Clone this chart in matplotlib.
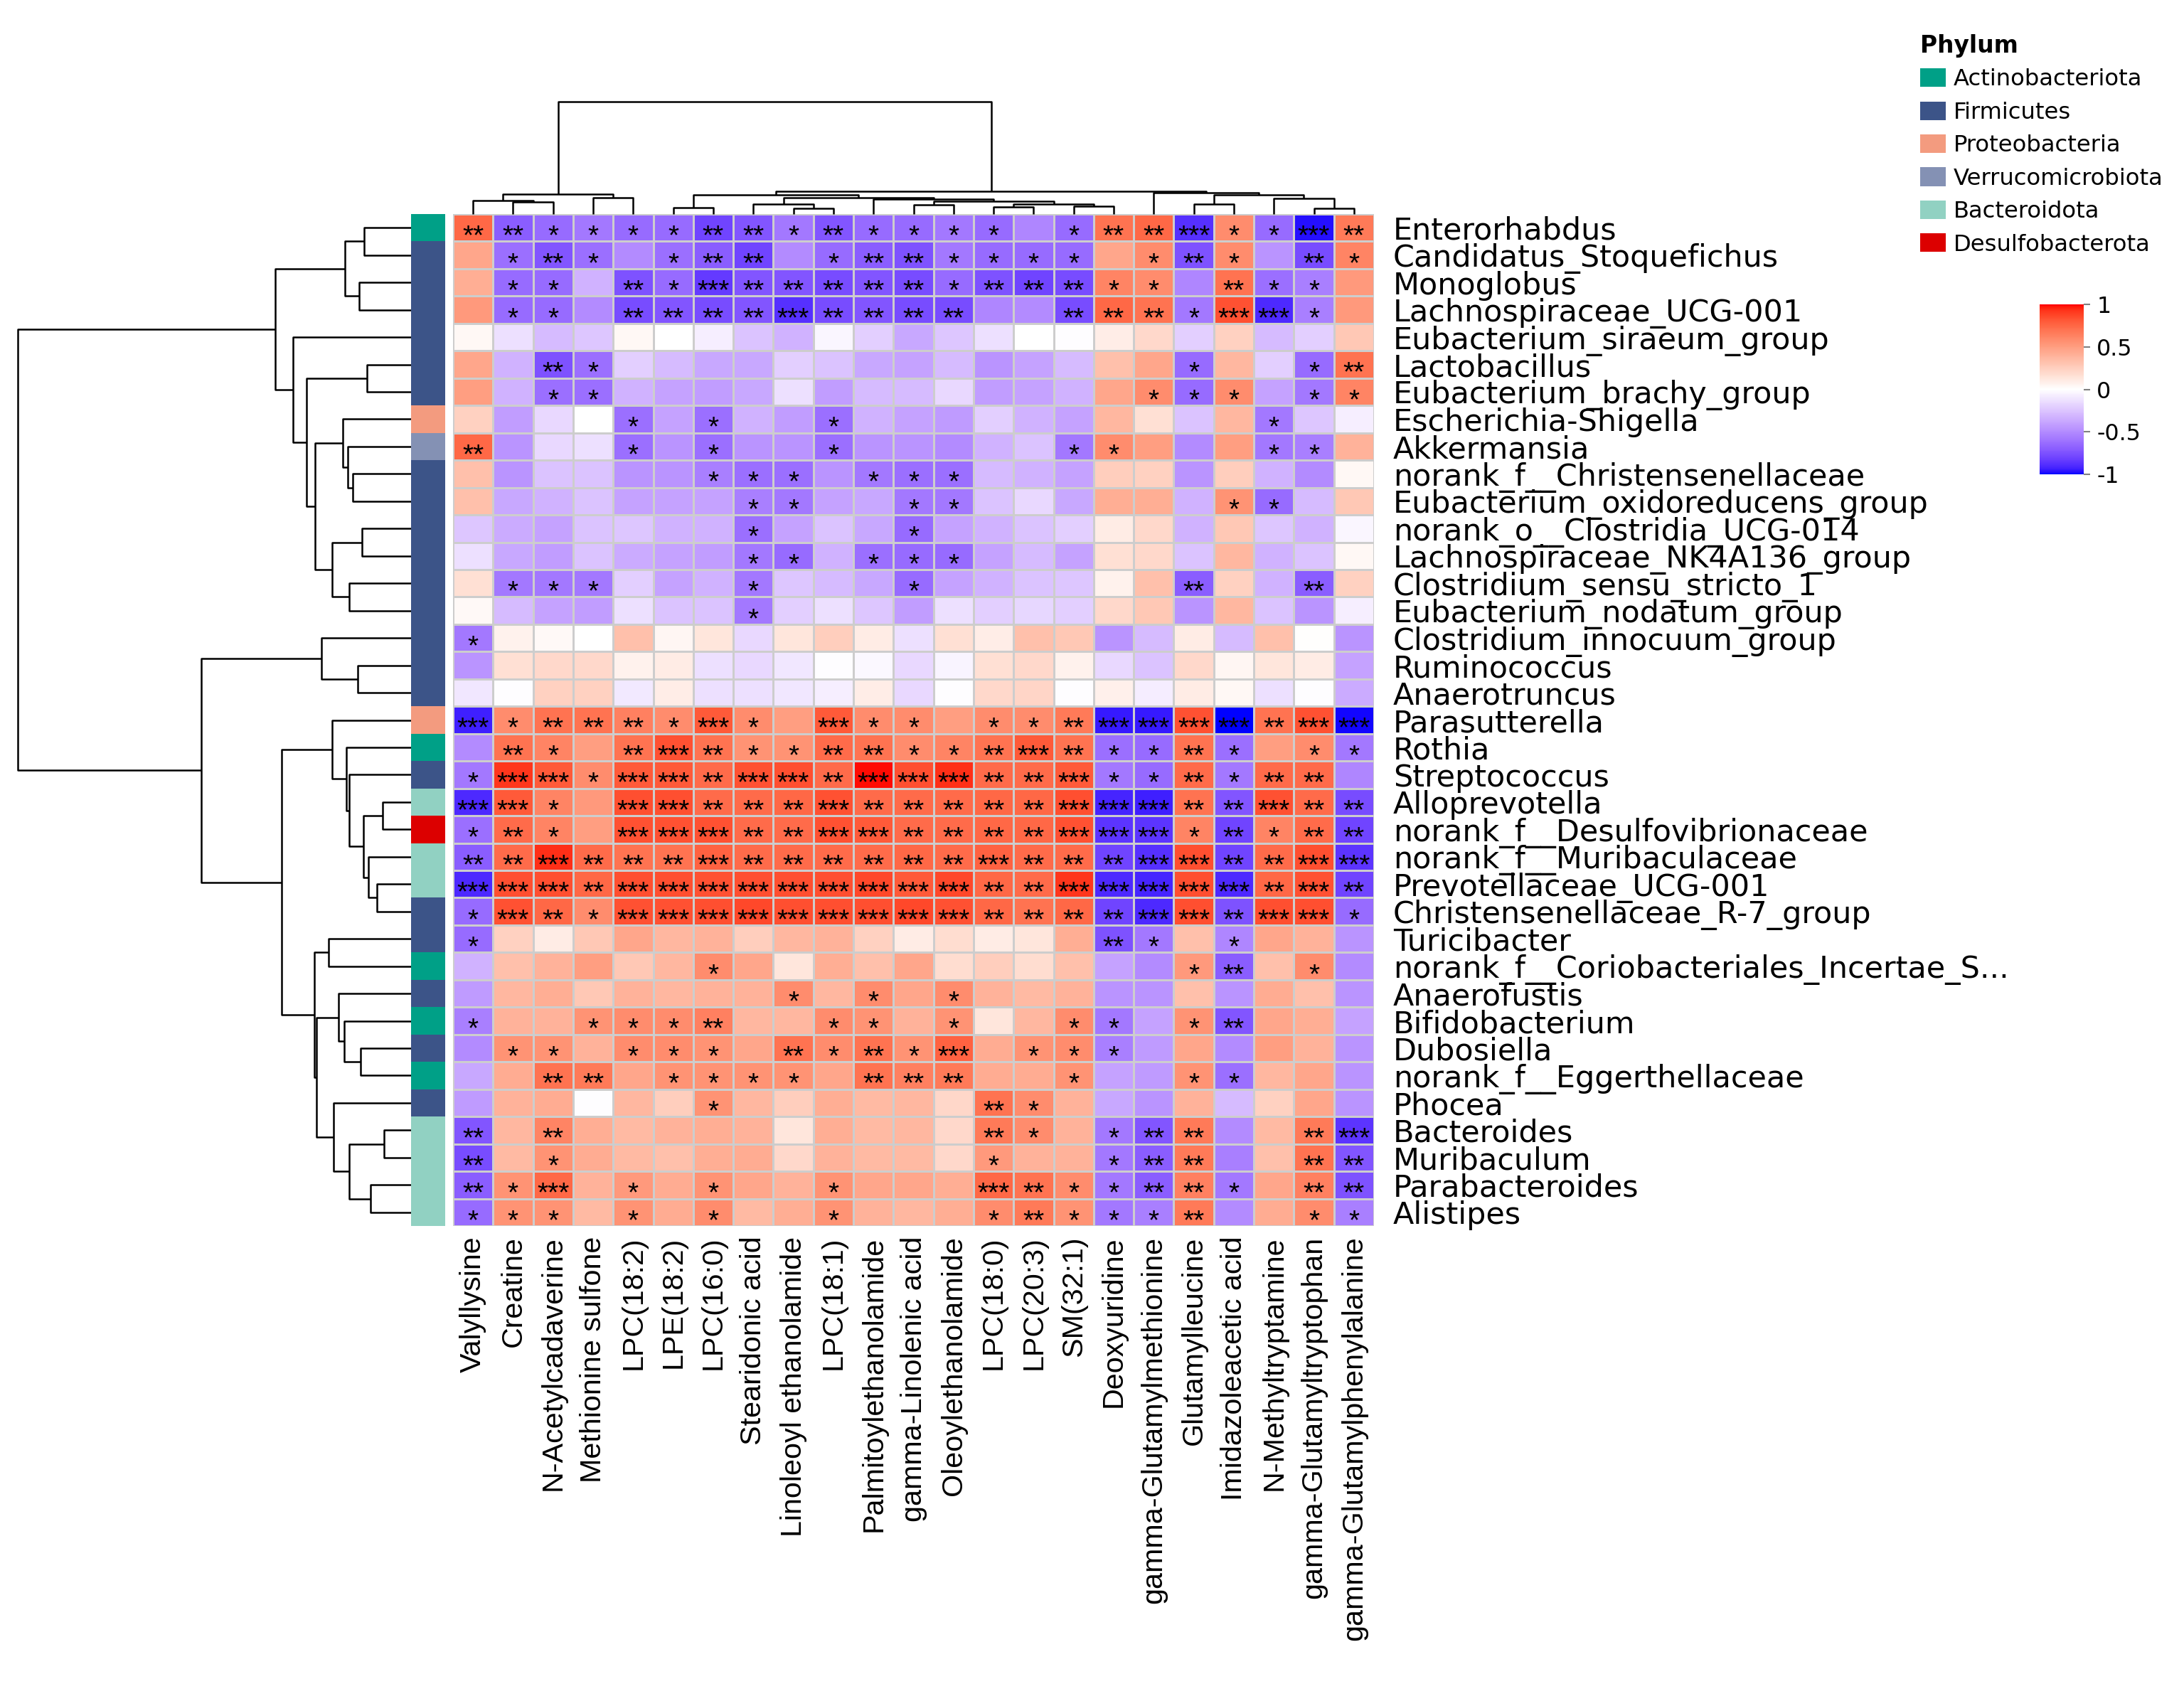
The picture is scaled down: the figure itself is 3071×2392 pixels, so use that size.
import numpy as np
import matplotlib
matplotlib.use("Agg")
import matplotlib.pyplot as plt
from matplotlib.colors import ListedColormap, Normalize
from matplotlib.patches import Patch
from matplotlib.transforms import offset_copy

W, H, DPI = 3071, 2392, 300

ROWS = [
    "Enterorhabdus", "Candidatus_Stoquefichus", "Monoglobus", "Lachnospiraceae_UCG-001",
    "Eubacterium_siraeum_group", "Lactobacillus", "Eubacterium_brachy_group",
    "Escherichia-Shigella", "Akkermansia", "norank_f__Christensenellaceae",
    "Eubacterium_oxidoreducens_group", "norank_o__Clostridia_UCG-014",
    "Lachnospiraceae_NK4A136_group", "Clostridium_sensu_stricto_1",
    "Eubacterium_nodatum_group", "Clostridium_innocuum_group", "Ruminococcus",
    "Anaerotruncus", "Parasutterella", "Rothia", "Streptococcus", "Alloprevotella",
    "norank_f__Desulfovibrionaceae", "norank_f__Muribaculaceae", "Prevotellaceae_UCG-001",
    "Christensenellaceae_R-7_group", "Turicibacter",
    "norank_f__Coriobacteriales_Incertae_S...", "Anaerofustis", "Bifidobacterium",
    "Dubosiella", "norank_f__Eggerthellaceae", "Phocea", "Bacteroides", "Muribaculum",
    "Parabacteroides", "Alistipes",
]

COLS = [
    "Valyllysine", "Creatine", "N-Acetylcadaverine", "Methionine sulfone", "LPC(18:2)",
    "LPE(18:2)", "LPC(16:0)", "Stearidonic acid", "Linoleoyl ethanolamide", "LPC(18:1)",
    "Palmitoylethanolamide", "gamma-Linolenic acid", "Oleoylethanolamide", "LPC(18:0)",
    "LPC(20:3)", "SM(32:1)", "Deoxyuridine", "gamma-Glutamylmethionine", "Glutamylleucine",
    "Imidazoleacetic acid", "N-Methyltryptamine", "gamma-Glutamyltryptophan",
    "gamma-Glutamylphenylalanine",
]

PHYLA = ["Actinobacteriota", "Firmicutes", "Proteobacteria", "Verrucomicrobiota",
         "Bacteroidota", "Desulfobacterota"]
PHYLUM_COLORS = ["#00A087", "#3C5488", "#F39B7F", "#8491B4", "#91D1C2", "#DC0000"]

ROW_PHYLUM = [
    "Actinobacteriota", "Firmicutes", "Firmicutes", "Firmicutes", "Firmicutes",
    "Firmicutes", "Firmicutes", "Proteobacteria", "Verrucomicrobiota", "Firmicutes",
    "Firmicutes", "Firmicutes", "Firmicutes", "Firmicutes", "Firmicutes", "Firmicutes",
    "Firmicutes", "Firmicutes", "Proteobacteria", "Actinobacteriota", "Firmicutes",
    "Bacteroidota", "Desulfobacterota", "Bacteroidota", "Bacteroidota", "Firmicutes",
    "Firmicutes", "Actinobacteriota", "Firmicutes", "Actinobacteriota", "Firmicutes",
    "Actinobacteriota", "Firmicutes", "Bacteroidota", "Bacteroidota", "Bacteroidota",
    "Bacteroidota",
]

CORR = [
    [0.75, -0.70, -0.64, -0.58, -0.64, -0.64, -0.80, -0.73, -0.58, -0.73, -0.64, -0.64, -0.58, -0.64, -0.52, -0.64, 0.70, 0.75, -0.88, 0.58, -0.64, -0.97, 0.67],
    [0.46, -0.62, -0.73, -0.62, -0.50, -0.62, -0.70, -0.80, -0.50, -0.64, -0.70, -0.75, -0.58, -0.64, -0.64, -0.64, 0.46, 0.58, -0.75, 0.58, -0.46, -0.77, 0.62],
    [0.42, -0.64, -0.64, -0.33, -0.75, -0.64, -0.84, -0.73, -0.73, -0.77, -0.73, -0.77, -0.64, -0.75, -0.80, -0.77, 0.62, 0.58, -0.52, 0.70, -0.62, -0.55, 0.52],
    [0.52, -0.64, -0.64, -0.50, -0.77, -0.73, -0.77, -0.73, -0.88, -0.77, -0.73, -0.77, -0.77, -0.52, -0.50, -0.77, 0.75, 0.70, -0.58, 0.83, -0.90, -0.55, 0.52],
    [0.04, -0.13, -0.29, -0.24, 0.04, 0.00, -0.07, -0.26, -0.33, -0.04, -0.20, -0.37, -0.24, -0.13, 0.00, -0.01, 0.09, 0.20, -0.20, 0.24, -0.29, -0.20, 0.29],
    [0.46, -0.33, -0.75, -0.62, -0.20, -0.29, -0.37, -0.37, -0.20, -0.26, -0.37, -0.40, -0.29, -0.46, -0.40, -0.29, 0.33, 0.46, -0.64, 0.37, -0.20, -0.64, 0.70],
    [0.50, -0.33, -0.62, -0.62, -0.33, -0.40, -0.42, -0.37, -0.13, -0.42, -0.29, -0.29, -0.16, -0.42, -0.40, -0.33, 0.46, 0.58, -0.64, 0.58, -0.40, -0.58, 0.62],
    [0.24, -0.42, -0.16, 0.00, -0.62, -0.40, -0.62, -0.33, -0.42, -0.62, -0.33, -0.40, -0.43, -0.20, -0.33, -0.40, 0.37, 0.16, -0.26, 0.37, -0.58, -0.24, -0.07],
    [0.75, -0.46, -0.16, -0.13, -0.62, -0.46, -0.62, -0.46, -0.46, -0.62, -0.46, -0.46, -0.50, -0.33, -0.26, -0.58, 0.58, 0.50, -0.50, 0.50, -0.58, -0.55, 0.40],
    [0.33, -0.46, -0.26, -0.26, -0.46, -0.46, -0.55, -0.62, -0.62, -0.46, -0.58, -0.62, -0.62, -0.29, -0.33, -0.40, 0.26, 0.24, -0.46, 0.26, -0.33, -0.50, 0.04],
    [0.33, -0.37, -0.33, -0.26, -0.40, -0.40, -0.40, -0.55, -0.58, -0.40, -0.37, -0.58, -0.58, -0.26, -0.16, -0.37, 0.42, 0.42, -0.33, 0.55, -0.64, -0.29, 0.29],
    [-0.24, -0.36, -0.40, -0.26, -0.24, -0.33, -0.33, -0.62, -0.40, -0.26, -0.37, -0.64, -0.40, -0.33, -0.26, -0.20, 0.10, 0.20, -0.33, 0.29, -0.24, -0.33, -0.04],
    [-0.13, -0.37, -0.42, -0.26, -0.36, -0.40, -0.42, -0.58, -0.64, -0.33, -0.62, -0.64, -0.64, -0.40, -0.29, -0.40, 0.16, 0.20, -0.26, 0.37, -0.33, -0.26, 0.04],
    [0.16, -0.58, -0.58, -0.58, -0.20, -0.40, -0.33, -0.58, -0.24, -0.29, -0.37, -0.64, -0.40, -0.33, -0.26, -0.24, 0.07, 0.33, -0.70, 0.24, -0.33, -0.70, 0.24],
    [0.03, -0.29, -0.40, -0.42, -0.13, -0.26, -0.26, -0.58, -0.20, -0.13, -0.24, -0.42, -0.13, -0.20, -0.17, -0.20, 0.20, 0.29, -0.46, 0.37, -0.26, -0.46, -0.07],
    [-0.58, 0.07, 0.03, 0.00, 0.33, 0.05, 0.13, -0.16, 0.13, 0.26, 0.10, -0.13, 0.16, 0.09, 0.33, 0.29, -0.46, -0.29, 0.10, -0.29, 0.33, 0.01, -0.46],
    [-0.46, 0.16, 0.20, 0.20, 0.07, 0.10, -0.13, -0.16, -0.10, -0.01, -0.03, -0.16, -0.05, 0.16, 0.20, 0.07, -0.16, -0.26, 0.20, 0.05, 0.13, 0.10, -0.40],
    [-0.10, -0.01, 0.24, 0.24, -0.09, 0.09, -0.13, -0.13, -0.10, -0.07, 0.09, -0.16, -0.01, 0.20, 0.22, -0.01, 0.08, -0.08, 0.10, 0.04, -0.13, -0.01, -0.36],
    [-0.93, 0.58, 0.70, 0.70, 0.64, 0.58, 0.80, 0.58, 0.50, 0.80, 0.58, 0.58, 0.50, 0.58, 0.58, 0.67, -0.95, -0.95, 0.83, -1.00, 0.70, 0.83, -0.99],
    [-0.50, 0.70, 0.62, 0.50, 0.70, 0.83, 0.70, 0.55, 0.55, 0.73, 0.70, 0.58, 0.62, 0.70, 0.80, 0.70, -0.62, -0.64, 0.70, -0.62, 0.50, 0.58, -0.58],
    [-0.58, 0.92, 0.80, 0.58, 0.80, 0.80, 0.73, 0.83, 0.84, 0.73, 0.99, 0.84, 0.93, 0.73, 0.73, 0.80, -0.58, -0.64, 0.73, -0.58, 0.73, 0.73, -0.52],
    [-0.90, 0.80, 0.62, 0.52, 0.84, 0.84, 0.73, 0.73, 0.75, 0.83, 0.73, 0.73, 0.73, 0.75, 0.75, 0.84, -0.92, -0.93, 0.70, -0.73, 0.83, 0.73, -0.77],
    [-0.62, 0.73, 0.62, 0.50, 0.83, 0.83, 0.83, 0.73, 0.73, 0.83, 0.80, 0.73, 0.73, 0.75, 0.75, 0.83, -0.86, -0.86, 0.62, -0.80, 0.62, 0.73, -0.80],
    [-0.70, 0.73, 0.93, 0.73, 0.70, 0.70, 0.77, 0.73, 0.73, 0.73, 0.73, 0.75, 0.73, 0.77, 0.73, 0.73, -0.80, -0.88, 0.84, -0.80, 0.73, 0.84, -0.86],
    [-0.90, 0.84, 0.84, 0.75, 0.84, 0.84, 0.83, 0.84, 0.84, 0.84, 0.86, 0.80, 0.86, 0.75, 0.73, 0.92, -0.90, -0.92, 0.84, -0.90, 0.75, 0.83, -0.80],
    [-0.64, 0.83, 0.75, 0.58, 0.83, 0.83, 0.84, 0.86, 0.84, 0.84, 0.84, 0.86, 0.83, 0.75, 0.70, 0.75, -0.80, -0.90, 0.84, -0.75, 0.84, 0.84, -0.64],
    [-0.64, 0.24, 0.10, 0.29, 0.46, 0.37, 0.40, 0.26, 0.37, 0.40, 0.24, 0.10, 0.18, 0.10, 0.13, 0.42, -0.75, -0.58, 0.33, -0.52, 0.46, 0.40, -0.46],
    [-0.33, 0.33, 0.40, 0.50, 0.29, 0.37, 0.58, 0.46, 0.13, 0.42, 0.33, 0.46, 0.18, 0.26, 0.18, 0.33, -0.40, -0.50, 0.52, -0.70, 0.33, 0.58, -0.50],
    [-0.43, 0.37, 0.42, 0.29, 0.40, 0.37, 0.40, 0.40, 0.58, 0.37, 0.58, 0.46, 0.58, 0.40, 0.36, 0.40, -0.46, -0.46, 0.33, -0.46, 0.43, 0.33, -0.46],
    [-0.55, 0.40, 0.40, 0.55, 0.58, 0.58, 0.64, 0.37, 0.37, 0.58, 0.55, 0.40, 0.55, 0.13, 0.37, 0.58, -0.58, -0.40, 0.55, -0.73, 0.46, 0.42, -0.40],
    [-0.50, 0.55, 0.55, 0.40, 0.58, 0.58, 0.55, 0.46, 0.70, 0.58, 0.70, 0.55, 0.77, 0.43, 0.55, 0.58, -0.55, -0.43, 0.46, -0.50, 0.50, 0.40, -0.46],
    [-0.37, 0.43, 0.70, 0.67, 0.46, 0.55, 0.55, 0.55, 0.55, 0.46, 0.70, 0.64, 0.67, 0.43, 0.43, 0.55, -0.40, -0.43, 0.55, -0.62, 0.37, 0.46, -0.46],
    [-0.43, 0.40, 0.43, -0.01, 0.37, 0.26, 0.55, 0.37, 0.26, 0.42, 0.36, 0.37, 0.21, 0.70, 0.58, 0.40, -0.37, -0.46, 0.40, -0.29, 0.24, 0.46, -0.46],
    [-0.73, 0.37, 0.62, 0.42, 0.36, 0.40, 0.42, 0.40, 0.13, 0.42, 0.36, 0.37, 0.20, 0.67, 0.58, 0.40, -0.58, -0.73, 0.67, -0.50, 0.36, 0.67, -0.86],
    [-0.77, 0.36, 0.55, 0.43, 0.36, 0.33, 0.42, 0.43, 0.20, 0.40, 0.36, 0.36, 0.20, 0.52, 0.40, 0.40, -0.58, -0.70, 0.67, -0.55, 0.33, 0.70, -0.73],
    [-0.70, 0.55, 0.75, 0.40, 0.52, 0.43, 0.55, 0.46, 0.40, 0.55, 0.46, 0.46, 0.42, 0.75, 0.70, 0.58, -0.58, -0.70, 0.64, -0.58, 0.46, 0.64, -0.75],
    [-0.64, 0.55, 0.55, 0.36, 0.55, 0.43, 0.58, 0.36, 0.42, 0.55, 0.40, 0.37, 0.42, 0.58, 0.67, 0.55, -0.58, -0.55, 0.67, -0.50, 0.43, 0.58, -0.55],
]

# significance level per cell: 0 none, 1 *, 2 **, 3 ***
STARS = [
    "22111122121111012231132", "01210122012211110121021", "01102132222212221102110",
    "01102222322220022213310", "00000000000000000000000", "00210000000000000010012",
    "00110000000000000111011", "00001010010000000000100", "20001010010000011000110",
    "00000011101110000000000", "00000001100110000001100", "00000001000100000000000",
    "00000001101110000000000", "01110001000100000020020", "00000001000000000000000",
    "10000000000000000000000", "00000000000000000000000", "00000000000000000000000",
    "31222131031101123333233", "02102321122112321121011", "13313323323332231121220",
    "33103322232222233322322", "12103332233222233312122", "22322232222223222332233",
    "33323333333332233333232", "13213333333332222332331", "10000000000000002101000",
    "00000010000000000012010", "00000000101010000000000", "10011120011010011012000",
    "01101110212130111000000", "00220111102220010011000", "00000010000002100000000",
    "20200000000002101220023", "20100000000001001220022", "21301010010003211221022",
    "11101010010001211120011",
]

# dendrograms as [merge height, left, right], leaves are column / row indices
COL_TREE = [475,
            [83, [58, 0, [50, 1, 2]], [68, 3, 4]],
            [95,
             [80, [28, 5, 6],
              [70, [43, 7, [25, 8, 9]],
               [63, 10, [55, [38, 11, 12], [43, [30, 13, 14], [32, 15, 16]]]]]],
             [90, 17, [82, [42, 18, 19], [65, 20, [25, 21, 22]]]]]]

ROW_TREE = [1355,
            [469, [228, [162, 0, 1], [180, 2, 3]],
             [407, 4, [360, [152, 5, 6],
                       [330, [235, 7, [217, 8, [202, 9, 10]]],
                        [272, [170, 11, 12], [214, 13, 14]]]]]],
            [723, [309, 15, [184, 16, 17]],
             [445, [272, 18, [222, 19, [214, 20, [165, [97, 21, 22], [147, 23, [117, 24, 25]]]]]],
              [334, [284, 26, 27],
               [327, [250, 28, [230, 29, [175, 30, 31]]],
                [267, 32, [212, [92, 33, 34], [139, 35, 36]]]]]]]]

STAR_SIZE = 9.3


def lab_ramp(n=257):
    m = np.array([[0.4124, 0.3576, 0.1805], [0.2126, 0.7152, 0.0722], [0.0193, 0.1192, 0.9505]])
    white = np.array([0.95047, 1.0, 1.08883])
    d = 6 / 29

    def to_lab(rgb):
        rgb = np.asarray(rgb, float)
        lin = np.where(rgb <= 0.04045, rgb / 12.92, ((rgb + 0.055) / 1.055) ** 2.4)
        t = (m @ lin) / white
        f = np.where(t > d ** 3, np.cbrt(t), t / (3 * d * d) + 4 / 29)
        return np.array([116 * f[1] - 16, 500 * (f[0] - f[1]), 200 * (f[1] - f[2])])

    def to_rgb(lab):
        fy = (lab[0] + 16) / 116
        f = np.array([fy + lab[1] / 500, fy, fy - lab[2] / 200])
        t = np.where(f > d, f ** 3, 3 * d * d * (f - 4 / 29))
        lin = np.clip(np.linalg.solve(m, t * white), 0, 1)
        return np.clip(np.where(lin <= 0.0031308, 12.92 * lin, 1.055 * lin ** (1 / 2.4) - 0.055), 0, 1)

    lw, lb, lr = to_lab([1, 1, 1]), to_lab([0, 0, 1]), to_lab([1, 0, 0])
    cols = []
    for v in np.linspace(-1, 1, n):
        end = lb if v < 0 else lr
        cols.append(to_rgb(lw + abs(v) * (end - lw)))
    return ListedColormap(cols)


def px_axes(fig, x0, y0, x1, y1):
    return fig.add_axes([x0 / W, 1 - y1 / H, (x1 - x0) / W, (y1 - y0) / H])


def draw_tree(ax, node, top):
    if isinstance(node, int):
        return node + 0.5, 0.0
    h, left, right = node
    p1, h1 = draw_tree(ax, left, top)
    p2, h2 = draw_tree(ax, right, top)
    pos, hts = [p1, p1, p2, p2], [h1, h, h, h2]
    if top:
        ax.plot(pos, hts, color="black", lw=0.6, clip_on=False, solid_capstyle="butt")
    else:
        ax.plot(hts, pos, color="black", lw=0.6, clip_on=False, solid_capstyle="butt")
    return (p1 + p2) / 2, h


def main():
    plt.rcParams["font.family"] = ["DejaVu Sans"]
    plt.rcParams["axes.unicode_minus"] = False
    cmap = lab_ramp()
    corr = np.array(CORR)
    nr, nc = corr.shape

    fig = plt.figure(figsize=(W / DPI, H / DPI), dpi=DPI)

    ax = px_axes(fig, 637, 301, 1932, 1724)
    ax.pcolormesh(np.arange(nc + 1), np.arange(nr + 1), corr, cmap=cmap, vmin=-1, vmax=1,
                  edgecolors="#CDCDCD", linewidth=0.6)
    ax.set_xlim(0, nc)
    ax.set_ylim(nr, 0)
    for s in ax.spines.values():
        s.set_visible(False)
    star_tr = offset_copy(ax.transData, fig=fig, x=0, y=-0.6 * STAR_SIZE, units="points")
    for i, row in enumerate(STARS):
        for j, ch in enumerate(row):
            if ch != "0":
                ax.text(j + 0.5, i + 0.5, "*" * int(ch), transform=star_tr, ha="center",
                        va="baseline", fontsize=STAR_SIZE, family="Liberation Sans",
                        color="black")
    ax.yaxis.tick_right()
    ax.set_yticks(np.arange(nr) + 0.5)
    ax.set_yticklabels(ROWS, fontsize=10.3)
    ax.tick_params(axis="y", length=0, pad=6.5)
    ax.set_xticks(np.arange(nc) + 0.5)
    ax.set_xticklabels(COLS, rotation=90, fontsize=9.9, family="Liberation Sans")
    ax.tick_params(axis="x", length=0, pad=3.5)

    ax_top = px_axes(fig, 637, 143, 1932, 301)
    draw_tree(ax_top, COL_TREE, True)
    ax_top.set_xlim(0, nc)
    ax_top.set_ylim(0, COL_TREE[0])
    ax_top.axis("off")

    ax_left = px_axes(fig, 25, 301, 578, 1724)
    draw_tree(ax_left, ROW_TREE, False)
    ax_left.set_xlim(ROW_TREE[0], 0)
    ax_left.set_ylim(nr, 0)
    ax_left.axis("off")

    ax_ann = px_axes(fig, 578, 301, 626, 1724)
    idx = np.array([PHYLA.index(p) for p in ROW_PHYLUM]).reshape(-1, 1)
    ax_ann.pcolormesh(np.arange(2), np.arange(nr + 1), idx, cmap=ListedColormap(PHYLUM_COLORS),
                      vmin=-0.5, vmax=len(PHYLA) - 0.5)
    ax_ann.set_ylim(nr, 0)
    ax_ann.axis("off")

    ax_cb = px_axes(fig, 2868, 428, 2930, 667)
    sm = plt.cm.ScalarMappable(norm=Normalize(-1, 1), cmap=cmap)
    cb = fig.colorbar(sm, cax=ax_cb, ticks=[-1, -0.5, 0, 0.5, 1])
    cb.outline.set_visible(False)
    cb.ax.set_yticklabels(["-1", "-0.5", "0", "0.5", "1"])
    cb.ax.tick_params(length=2.2, width=0.5, color="#808080", pad=2.2, labelsize=7.6)

    handles = [Patch(facecolor=c, edgecolor="none", label=n) for n, c in zip(PHYLA, PHYLUM_COLORS)]
    fig.legend(handles=handles, title="Phylum", loc="upper left",
               bbox_to_anchor=(2700 / W, 1 - 48 / H), frameon=False, fontsize=7.75,
               title_fontproperties={"weight": "bold", "size": 7.9}, alignment="left",
               handlelength=1.11, handleheight=0.87, handletextpad=0.34, labelspacing=0.47,
               borderpad=0, borderaxespad=0)

    fig.savefig("out.png", dpi=DPI)


if __name__ == "__main__":
    main()
